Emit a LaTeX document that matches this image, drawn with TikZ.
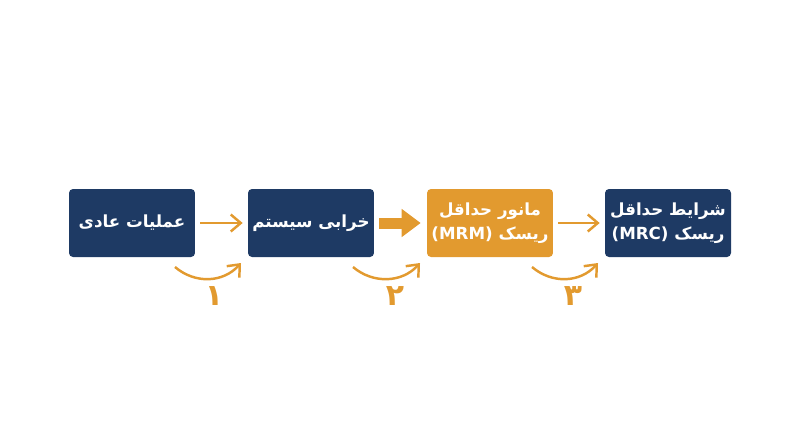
\documentclass[tikz,border=0pt]{standalone}
\usepackage{fontspec}
\usetikzlibrary{arrows.meta}
\TeXXeTstate=1
\newfontfamily\farsi[Script=Arabic]{DejaVu Sans}
\definecolor{navy}{HTML}{1E3A64}
\definecolor{amber}{HTML}{E29A2F}
\tikzstyle{stage} = [rectangle, rounded corners=0.08cm, fill=navy, text=white, minimum width=2.52cm, minimum height=1.36cm, inner sep=1pt, align=center, font=\farsi\bfseries\fontsize{9.5}{14}\selectfont]
\tikzstyle{fallback} = [stage, fill=amber]
\tikzstyle{flow} = [draw=amber, line width=1.4pt, shorten <=0.1cm, shorten >=0.1cm, -{Straight Barb[length=0.2cm, width=0.34cm]}]
\tikzstyle{push} = [draw=amber, line width=0.22cm, shorten <=0.1cm, shorten >=0.12cm, -{Triangle[length=0.38cm, width=0.54cm]}]
\tikzstyle{swing} = [draw=amber, line width=1.4pt, -{Straight Barb[length=0.2cm, width=0.34cm]}]
\tikzstyle{phase} = [text=amber, anchor=base, inner sep=0pt, font=\farsi\bfseries\fontsize{17}{17}\selectfont]

\begin{document}
\begin{tikzpicture}[x=0.02cm, y=0.02cm]
    \useasboundingbox (0,0) rectangle (800,-447);
    \draw (132,-223) node[stage] (A) {\beginR عملیات عادی\endR};
    \draw (311,-223) node[stage] (B) {\beginR خرابی سیستم\endR};
    \draw (490,-223) node[fallback] (C) {\beginR مانور حداقل\endR \\ \beginR ریسک \beginL(MRM)\endL\endR};
    \draw (668,-223) node[stage] (D) {\beginR شرایط حداقل\endR \\ \beginR ریسک \beginL(MRC)\endL\endR};
    % curved hints under the arrows
    \coordinate (P1) at (175,-267);
    \coordinate (Q1) at (241,-263);
    \coordinate (P2) at (353,-267);
    \coordinate (Q2) at (420,-263);
    \coordinate (P3) at (532,-267);
    \coordinate (Q3) at (598,-263);
    \draw (214,-305) node[phase] (N1) {۱};
    \draw (395,-305) node[phase] (N2) {۲};
    \draw (573,-305) node[phase] (N3) {۳};
    \draw[flow] (A) -- (B);
    \draw[push] (B) -- (C);
    \draw[flow] (C) -- (D);
    \draw[swing] (P1) .. controls (195,-284) and (223,-283) .. (Q1);
    \draw[swing] (P2) .. controls (373,-284) and (402,-283) .. (Q2);
    \draw[swing] (P3) .. controls (552,-284) and (580,-283) .. (Q3);
\end{tikzpicture}
\end{document}
